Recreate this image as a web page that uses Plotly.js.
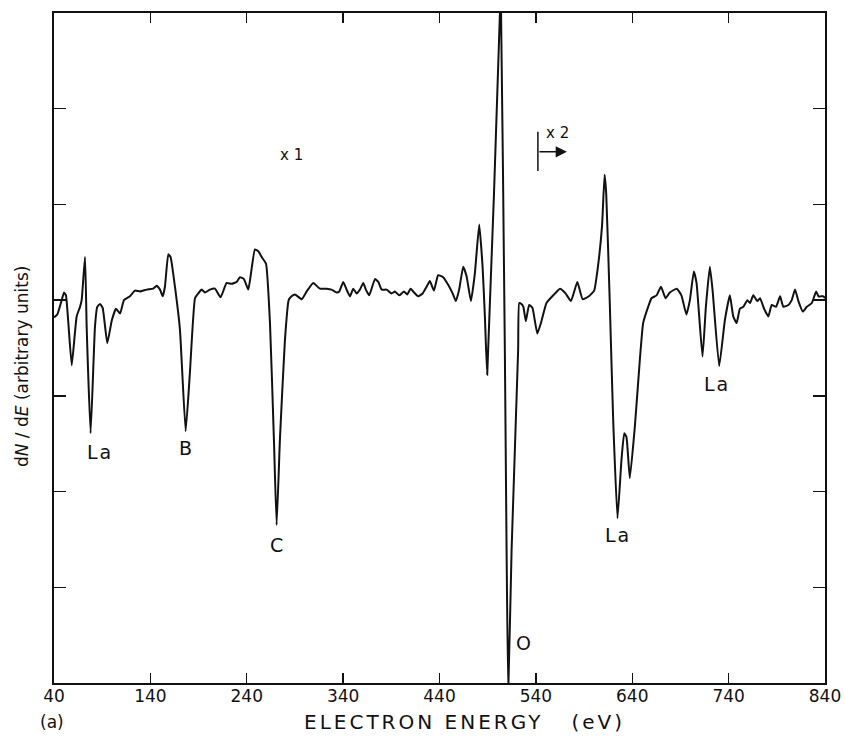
<!DOCTYPE html>
<html>
<head>
<meta charset="utf-8">
<script src="https://cdn.plot.ly/plotly-3.0.1.min.js"></script>
<style>
  html, body { margin: 0; padding: 0; background: #fff; }
  #chart { width: 845px; height: 741px; }
</style>
</head>
<body>
<div id="chart"></div>
<script>
// Electron energy (eV) and dN/dE signal (arbitrary units)
const energy = [
  40, 43.4, 48, 50.4, 52.4, 54.9, 58.4, 63.5, 67, 68.7, 72.2, 73.9, 78, 82.5, 84.9, 87.7, 90.5, 95.3,
  100, 104.3, 108.5, 112.6, 118.8, 124, 129.2, 136.2, 143, 146.5, 150, 152.8, 155.1, 158.6, 161, 165.5,
  170.7, 176.6, 181, 186.3, 189.7, 193.2, 196.6, 201.8, 207, 212.9, 219.1, 224.3, 229.5, 233, 237.1,
  241.6, 244.4, 248.5, 252, 255.5, 260, 264.1, 268.2, 271, 274.4, 279.6, 283.5, 286.5, 290, 297, 302.1,
  309, 315.9, 322.9, 328, 333.3, 336, 340.1, 343.6, 347.1, 350.5, 354, 357.4, 360.9, 363.6, 367.1, 373,
  376.5, 380, 385.1, 390.3, 393.7, 398.2, 403.1, 406.5, 410, 412.7, 417.9, 422.5, 426.6, 430, 434.2,
  438.6, 443.8, 449, 453.6, 457, 460.4, 464.6, 468.1, 472.6, 476.7, 481.2, 484.7, 487.1, 489.5, 502.7,
  503.5, 507.8, 509.6, 511.3, 514.8, 521.6, 522.7, 525, 527, 529.6, 533, 536.4, 541.5, 545.5, 551, 558,
  565, 570.8, 576.4, 583, 588.5, 595, 600.5, 604.4, 608.6, 611.3, 613, 616.6, 620.2, 624.7, 628.8, 631.7,
  634, 637.5, 642.7, 647.9, 651.3, 656.5, 660, 665.2, 669.8, 674.6, 679, 686.2, 691, 696.2, 699.8, 703.9,
  706.7, 712.9, 716.4, 720.5, 723.3, 730.2, 736.1, 741.3, 744.8, 748.3, 751.7, 755.2, 759.4, 762.2, 765.6,
  769.8, 772.6, 776.8, 781.2, 784.7, 789.2, 793.4, 796.8, 802, 805.5, 808.9, 812.4, 817, 821.1, 826.3,
  830.8, 833.2, 838.4, 840
];
const signal = [
  3.82, 3.85, 4.0, 4.08, 4.05, 3.76, 3.32, 3.83, 3.93, 4.0, 4.45, 3.72, 2.61, 3.72, 3.93, 3.96, 3.92, 3.55,
  3.79, 3.91, 3.86, 4.0, 4.04, 4.10, 4.09, 4.11, 4.12, 4.15, 4.11, 4.04, 4.14, 4.48, 4.45, 4.14,
  3.69, 2.63, 3.24, 4.02, 4.07, 4.11, 4.08, 4.11, 4.12, 4.03, 4.18, 4.17, 4.19, 4.24, 4.22,
  4.11, 4.28, 4.53, 4.51, 4.45, 4.38, 3.76, 2.54, 1.65, 2.54, 3.58, 4.0, 4.04, 4.06, 4.01, 4.09,
  4.18, 4.12, 4.12, 4.11, 4.08, 4.09, 4.19, 4.11, 4.04, 4.12, 4.07, 4.11, 4.18, 4.11, 4.05, 4.22,
  4.19, 4.11, 4.11, 4.07, 4.09, 4.05, 4.09, 4.06, 4.12, 4.09, 4.04, 4.07, 4.14, 4.20, 4.10,
  4.26, 4.24, 4.16, 4.07, 3.99, 4.11, 4.35, 4.25, 3.99, 4.28, 4.79, 4.35, 3.83, 3.22, 7.0,
  7.3, 3.48, 1.39, -0.1, 1.39, 3.48, 3.97, 3.96, 3.93, 3.78, 3.95, 3.92, 3.65, 3.77, 3.97, 4.05,
  4.12, 4.07, 3.99, 4.19, 4.01, 4.04, 4.10, 4.35, 4.77, 5.31, 5.11, 4.0, 2.75, 1.72, 2.33, 2.61,
  2.57, 2.14, 2.68, 3.38, 3.76, 3.93, 4.02, 4.05, 4.14, 4.02, 4.08, 4.12, 4.05, 3.85, 4.0, 4.30,
  4.18, 3.41, 3.93, 4.35, 4.11, 3.31, 3.79, 4.05, 3.83, 3.76, 3.91, 3.93, 4.0, 3.97, 4.05,
  3.99, 4.02, 3.91, 3.83, 3.95, 3.93, 4.04, 3.93, 3.95, 4.0, 4.11, 3.99, 3.88, 3.93, 3.97,
  4.09, 4.04, 4.04, 4.02
];
const xTicks = [40, 140, 240, 340, 440, 540, 640, 740, 840];
const yTicks = [1, 2, 3, 4, 5, 6];

// Peak labels
const labelText = ['La', 'B', 'C', 'O', 'La', 'La'];
const labelE = [87.7, 176.6, 271, 527, 624.7, 727.5];
const labelY = [2.41, 2.46, 1.44, 0.42, 1.55, 3.12];

const font = 'DejaVu Sans, Liberation Sans, sans-serif';

const annotations = labelText.map((t, i) => ({
  x: labelE[i], y: labelY[i], xref: 'x', yref: 'y', text: t, showarrow: false,
  font: {family: font, size: 19, color: '#111'}
}));
annotations.push(
  {x: 286.9, y: 5.52, xref: 'x', yref: 'y', text: 'x 1', showarrow: false,
   font: {family: font, size: 15, color: '#111'}},
  {x: 562.8, y: 5.75, xref: 'x', yref: 'y', text: 'x 2', showarrow: false,
   font: {family: font, size: 15, color: '#111'}},
  {x: 572.2, y: 5.55, ax: 542.1, ay: 5.55, xref: 'x', yref: 'y', axref: 'x', ayref: 'y',
   text: '', showarrow: true, arrowhead: 2, arrowsize: 1.5, arrowwidth: 1.5, arrowcolor: '#111'},
  {x: 0.533, y: -0.058, xref: 'paper', yref: 'paper', text: 'ELECTRON ENERGY   (eV)',
   showarrow: false, xanchor: 'center', yanchor: 'middle',
   font: {family: font, size: 20, color: '#111'}},
  {x: -0.003, y: -0.058, xref: 'paper', yref: 'paper', text: '(a)', showarrow: false,
   xanchor: 'center', yanchor: 'middle', font: {family: font, size: 17, color: '#111'}},
  {x: -0.0415, y: 0.473, xref: 'paper', yref: 'paper', text: 'd<i>N</i> / d<i>E</i> (arbitrary units)',
   showarrow: false, textangle: -90, xanchor: 'center', yanchor: 'middle',
   font: {family: font, size: 17, color: '#111'}}
);

const trace = {
  x: energy, y: signal, type: 'scatter', mode: 'lines',
  line: {color: '#111', width: 2, shape: 'spline', smoothing: 0.4}, hoverinfo: 'skip'
};

const layout = {
  width: 845, height: 741,
  margin: {l: 54, r: 20, t: 13, b: 58},
  paper_bgcolor: '#fff', plot_bgcolor: '#fff',
  showlegend: false,
  xaxis: {
    range: [40, 840], tickvals: xTicks, ticktext: xTicks.map(String),
    ticks: 'inside', ticklen: 10, tickwidth: 1.3, tickcolor: '#111',
    showline: true, linecolor: '#111', linewidth: 1.6, mirror: 'ticks',
    showgrid: false, zeroline: false, ticklabelstandoff: -3,
    tickfont: {family: font, size: 17, color: '#111'}
  },
  yaxis: {
    range: [0, 7], tickvals: yTicks, showticklabels: false,
    ticks: 'inside', ticklen: 12, tickwidth: 1.3, tickcolor: '#111',
    showline: true, linecolor: '#111', linewidth: 1.6, mirror: 'ticks',
    showgrid: false, zeroline: false
  },
  shapes: [
    {type: 'line', xref: 'x', yref: 'y', x0: 542.1, x1: 542.1, y0: 5.35, y1: 5.76,
     line: {color: '#111', width: 1.5}}
  ],
  annotations: annotations
};

Plotly.newPlot('chart', [trace], layout, {staticPlot: true, displayModeBar: false}).then(() => {
  document.querySelectorAll('.annotation-text').forEach(el => {
    if (el.textContent.indexOf('ELECTRON') >= 0) el.style.letterSpacing = '3px';
    if (el.textContent === 'La') el.style.letterSpacing = '2px';
  });
});
</script>
</body>
</html>
